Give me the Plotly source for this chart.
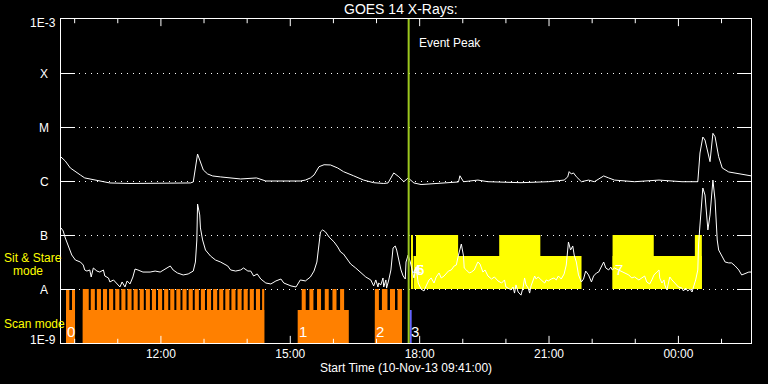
import numpy as np
import pandas as pd
import plotly.graph_objects as go

START = pd.Timestamp("2013-11-10 09:41:00")
END = START + pd.Timedelta(hours=16)

long_min = [0, 6, 13, 20, 27, 33, 40, 54, 68, 96, 124, 152, 180, 184, 187, 190, 191, 194, 198, 204,
            211, 222, 250, 272, 285, 306, 333, 340, 347, 352, 359, 366, 375, 385, 393, 407, 421, 435, 449, 455,
            459, 463, 470, 477, 483, 487, 491, 501, 539, 553, 555, 560, 580, 594, 640, 678, 700, 705, 707, 710,
            713, 717, 724, 734, 742, 755, 762, 770, 798, 832, 864, 886, 889, 893, 896, 900, 903, 907, 910, 915,
            920, 929, 943, 961]
long_flux_1e6 = [2.78, 2.34, 1.74, 1.47, 1.29, 1.14, 1.09, 1.0, 0.92, 0.9, 0.9, 0.92, 0.92, 0.96, 1.6, 3.16, 2.9, 2.15, 1.6, 1.35,
                 1.24, 1.19, 1.09, 1.14, 1.0, 1.0, 1.0, 1.04, 1.14, 1.29, 1.84, 2.0, 1.98, 1.74, 1.49, 1.25, 1.04, 0.93, 0.9, 0.92,
                 1.14, 1.41, 1.2, 0.97, 1.14, 1.04, 0.92, 0.86, 0.92, 0.96, 1.25, 0.97, 1.04, 0.97, 0.93, 0.97, 1.04, 1.19, 1.49, 1.35,
                 1.41, 1.2, 0.97, 1.04, 0.97, 1.24, 1.14, 1.04, 0.97, 1.04, 0.97, 0.97, 3.3, 6.53, 5.74, 3.44, 2.28, 7.64, 6.61, 2.82,
                 1.74, 1.47, 1.35, 1.24]

short_min = [0, 3, 6, 10, 15, 20, 27, 31, 33, 36, 40, 42, 45, 50, 54, 59, 61, 66, 68, 73,
             78, 82, 85, 89, 92, 96, 100, 103, 107, 114, 124, 131, 138, 145, 152, 156, 162, 170, 177, 184,
             187, 189, 190, 193, 194, 197, 201, 208, 215, 222, 232, 236, 243, 250, 254, 260, 264, 268, 273, 278,
             285, 292, 299, 306, 310, 320, 327, 333, 340, 347, 352, 356, 359, 361, 364, 368, 373, 380, 385, 389,
             393, 399, 403, 410, 417, 424, 431, 435, 438, 441, 442, 445, 448, 449, 452, 453, 456, 459, 462, 465,
             467, 470, 473, 476, 479, 480, 483, 486, 488, 491, 494, 497, 501, 505, 508, 512, 515, 519, 522, 526,
             529, 533, 539, 543, 547, 550, 553, 557, 560, 561, 564, 568, 571, 575, 578, 580, 583, 587, 590, 594,
             599, 603, 608, 613, 617, 619, 624, 626, 629, 631, 633, 636, 640, 643, 645, 647, 650, 652, 654, 659,
             661, 664, 668, 673, 675, 678, 682, 686, 689, 692, 696, 700, 703, 706, 709, 712, 714, 717, 720, 724,
             727, 730, 734, 737, 738, 741, 745, 748, 752, 755, 758, 762, 765, 767, 770, 776, 780, 784, 790, 794,
             798, 804, 808, 812, 815, 819, 822, 825, 829, 832, 833, 836, 839, 840, 843, 846, 847, 850, 853, 857,
             859, 864, 866, 869, 872, 875, 878, 880, 883, 886, 887, 889, 893, 896, 900, 903, 907, 910, 913, 915,
             920, 924, 929, 933, 938, 943, 947, 951, 957, 961]
short_flux_1e8 = [13.5, 11.9, 8.8, 6.53, 4.26, 3.44, 3.16, 2.78, 2.25, 2.15, 2.25, 1.67, 2.45, 2.15, 2.06, 2.25, 1.74, 1.6, 1.35, 1.47,
                  1.24, 1.09, 1.35, 1.09, 1.41, 1.24, 1.67, 2.34, 2.25, 2.06, 2.06, 2.15, 2.06, 2.34, 2.67, 2.25, 1.98, 1.82, 1.9, 2.15,
                  3.16, 8.08, 37.5, 23.5, 13.5, 8.1, 5.27, 4.08, 3.44, 3.16, 2.67, 2.25, 2.15, 2.25, 2.45, 2.15, 2.15, 1.74, 1.9, 1.53,
                  1.29, 1.24, 1.41, 1.53, 1.29, 1.14, 1.09, 1.47, 1.41, 1.67, 2.15, 3.16, 6.26, 11.4, 12.4, 11.4, 9.18, 7.42, 6.0, 4.84,
                  4.45, 3.44, 2.9, 2.45, 1.98, 1.67, 1.47, 1.14, 1.47, 1.09, 1.29, 1.19, 1.6, 1.09, 1.47, 1.04, 1.47, 2.25, 5.74, 6.26,
                  5.27, 3.16, 2.25, 1.74, 1.53, 3.16, 4.26, 3.16, 2.25, 1.6, 2.55, 1.29, 1.0, 0.92, 1.14, 1.47, 1.6, 1.29, 1.67, 1.98,
                  1.6, 1.74, 2.15, 2.25, 2.67, 2.78, 4.26, 6.81, 4.08, 2.45, 2.25, 1.98, 2.06, 2.25, 2.78, 3.16, 2.9, 2.06, 2.25, 1.74,
                  1.53, 1.67, 1.41, 1.29, 1.47, 1.09, 1.0, 0.96, 1.09, 0.84, 1.19, 0.88, 0.77, 1.09, 1.6, 1.19, 1.04, 0.84, 1.14, 1.74,
                  1.53, 1.67, 1.47, 1.29, 1.47, 1.41, 1.53, 1.6, 1.47, 1.74, 1.53, 1.9, 2.78, 7.42, 5.27, 6.26, 4.26, 3.16, 1.82, 1.35,
                  1.53, 2.15, 1.82, 1.53, 1.35, 1.74, 1.98, 2.06, 2.55, 3.16, 2.45, 2.25, 2.55, 2.25, 2.45, 2.25, 2.06, 1.98, 1.82, 1.6,
                  1.67, 1.47, 1.6, 1.74, 1.35, 1.24, 1.47, 1.82, 2.06, 2.25, 1.6, 1.29, 1.47, 1.19, 0.96, 1.35, 1.67, 1.47, 1.35, 1.19,
                  1.09, 1.04, 0.92, 1.04, 0.92, 1.0, 0.88, 1.09, 1.47, 2.25, 6.53, 15.3, 74.2, 55.0, 12.4, 23.5, 104, 44.5, 8.08, 5.27,
                  4.08, 3.16, 3.04, 3.04, 2.67, 2.25, 1.82, 1.9, 2.06, 2.06]

event_peak_min = 483.7

scan_obs_label = ["0", "", "1", "2"]
scan_obs_start = [7.0, 30.3, 329.3, 436.7]
scan_obs_end = [19.5, 282.8, 400.4, 474.4]
scan_raster_start = [7.0, 15.3,
                     30.3, 41.4, 49.9, 58.4, 66.9, 75.5, 84.0, 92.5, 101.0, 109.5, 118.0, 126.5, 135.0, 143.5, 152.0,
                     160.5, 169.0, 177.6, 186.1, 194.6, 203.1, 211.6, 220.1, 228.6, 237.1, 245.6, 254.1, 262.6, 271.2, 279.8,
                     334.9, 345.6, 356.2, 367.0, 377.7, 388.3,
                     436.7, 446.5, 457.7, 468.2]
scan_raster_end = [11.6, 19.5,
                   38.6, 47.1, 55.6, 64.1, 72.6, 81.2, 89.7, 98.2, 106.7, 115.2, 123.7, 132.2, 140.7, 149.2, 157.7,
                   166.2, 174.7, 183.3, 191.8, 200.3, 208.8, 217.3, 225.8, 234.3, 242.8, 251.3, 259.8, 268.3, 276.9, 282.8,
                   340.5, 351.2, 361.8, 372.5, 383.3, 393.9,
                   442.3, 454.2, 464.7, 474.4]

other_obs_label = ["3"]
other_obs_start = [485.1]
other_obs_end = [487.9]

sns_obs_label = ["4", "5", "6", "7"]
sns_obs_start = [487.0, 490.5, 490.5, 767.4]
sns_obs_end = [489.7, 724.2, 724.2, 891.6]
sns_raster_start = [487.0, 493.9, 609.7, 767.4, 881.9]
sns_raster_end = [489.7, 552.5, 666.9, 824.7, 891.6]

goes_levels = [1e-9, 1e-8, 1e-7, 1e-6, 1e-5, 1e-4, 1e-3]
goes_level_text = ["1E-9", "A", "B", "C", "M", "X", "1E-3"]
hour_ticks = ["2013-11-10 %02d:00" % h for h in range(10, 24)] + ["2013-11-11 %02d:00" % h for h in range(0, 2)]


def t(m):
    return START + pd.Timedelta(minutes=float(m))


def rects(starts, ends, lo, hi):
    xs, ys = [], []
    for s, e in zip(starts, ends):
        xs += [t(s), t(e), t(e), t(s), t(s), None]
        ys += [lo, lo, hi, hi, lo, None]
    return xs, ys


ORANGE = "#ff8000"
YELLOW = "#ffff00"
BLUE = "#6464ff"
GREEN = "#9cc81e"
FONT = "Liberation Sans"

fig = go.Figure()


def add_block(xs, ys, color):
    fig.add_trace(go.Scatter(x=xs, y=ys, mode="lines", fill="toself", fillcolor=color,
                             line=dict(width=0, color=color), hoverinfo="skip"))


add_block(*rects(scan_obs_start, scan_obs_end, 1e-9, 4.08e-9), ORANGE)
add_block(*rects(scan_raster_start, scan_raster_end, 1e-9, 1e-8), ORANGE)
add_block(*rects(other_obs_start, other_obs_end, 1e-9, 4.08e-9), BLUE)
add_block(*rects(sns_obs_start, sns_obs_end, 1e-8, 4.08e-8), YELLOW)
add_block(*rects(sns_raster_start, sns_raster_end, 1e-8, 1e-7), YELLOW)

fig.add_trace(go.Scatter(x=[t(m) for m in long_min], y=[v * 1e-6 for v in long_flux_1e6],
                         mode="lines", line=dict(color="white", width=1)))
fig.add_trace(go.Scatter(x=[t(m) for m in short_min], y=[v * 1e-8 for v in short_flux_1e8],
                         mode="lines", line=dict(color="white", width=1)))

fig.add_shape(type="line", x0=t(event_peak_min), x1=t(event_peak_min), y0=0, y1=1,
              xref="x", yref="paper", line=dict(color=GREEN, width=2), layer="above")

# hour tick marks on bottom and top axes (longer every 3 hours)
for h in hour_ticks:
    ts = pd.Timestamp(h)
    ln = 0.022 if ts.hour % 3 == 0 else 0.013
    for y0, y1 in ((0, ln), (1 - ln, 1)):
        fig.add_shape(type="line", x0=ts, x1=ts, y0=y0, y1=y1, xref="x", yref="paper",
                      line=dict(color="white", width=1), layer="above")

ann = []
white = dict(family=FONT, size=12, color="white")
yellow = dict(family=FONT, size=12, color=YELLOW)
for lvl, txt in zip(goes_levels, goes_level_text):
    if txt.startswith("1E"):
        ann.append(dict(x=-0.005, xref="paper", y=np.log10(lvl), yref="y", text=txt, showarrow=False,
                        xanchor="right", yanchor="middle", font=white,
                        yshift=-4 if lvl > 1e-6 else 3))
    else:
        ann.append(dict(x=-0.0246, xref="paper", y=np.log10(lvl), yref="y", text=txt, showarrow=False,
                        xanchor="center", yanchor="middle", font=white, yshift=-1))

big = dict(family=FONT, size=15, color="white")
for lab, s in zip(scan_obs_label + other_obs_label, scan_obs_start + other_obs_start):
    if lab:
        ann.append(dict(x=t(s), xref="x", y=np.log10(1.6e-9), yref="y", text=lab, showarrow=False,
                        xanchor="left", yanchor="middle", font=big, xshift=-1))
for lab, s in zip(sns_obs_label, sns_obs_start):
    ann.append(dict(x=t(s), xref="x", y=np.log10(2.25e-8), yref="y", text=lab, showarrow=False,
                    xanchor="left", yanchor="middle", font=big, xshift=0))

ann += [
    dict(x=0.493, xref="paper", y=1.030, yref="paper", text="GOES 14 X-Rays:", showarrow=False,
         xanchor="center", yanchor="middle", font=dict(family=FONT, size=14, color="white")),
    dict(x=0.5, xref="paper", y=-0.076, yref="paper", text="Start Time (10-Nov-13 09:41:00)", showarrow=False,
         xanchor="center", yanchor="middle", font=white),
    dict(x=t(event_peak_min), xref="x", y=0.926, yref="paper", text="Event Peak", showarrow=False,
         xanchor="left", yanchor="middle", font=white, xshift=8),
    dict(x=-0.086, xref="paper", y=0.262, yref="paper", text="Sit & Stare", showarrow=False,
         xanchor="left", yanchor="middle", font=yellow),
    dict(x=-0.072, xref="paper", y=0.222, yref="paper", text="mode", showarrow=False,
         xanchor="left", yanchor="middle", font=yellow),
    dict(x=-0.086, xref="paper", y=0.0586, yref="paper", text="Scan mode", showarrow=False,
         xanchor="left", yanchor="middle", font=yellow),
]

fig.update_layout(
    width=768, height=384, margin=dict(l=61, r=17, t=19, b=41),
    paper_bgcolor="black", plot_bgcolor="black", showlegend=False,
    annotations=ann,
    xaxis=dict(type="date", range=[START, END], tickmode="linear", tick0="2013-11-10 00:00",
               dtick=3 * 3600 * 1000, tickformat="%H:%M", ticks="", showline=True, linecolor="white",
               linewidth=1, mirror=True, showgrid=False, zeroline=False, tickfont=white),
    yaxis=dict(type="log", range=[-9, -3], tickmode="array", tickvals=goes_levels, ticks="inside",
               ticklen=14, tickwidth=1, tickcolor="white", showticklabels=False, showline=True,
               linecolor="white", linewidth=1, mirror="ticks", showgrid=True, gridcolor="white",
               griddash="1px,5px", gridwidth=1, zeroline=False),
)

fig.write_html("out.html")
